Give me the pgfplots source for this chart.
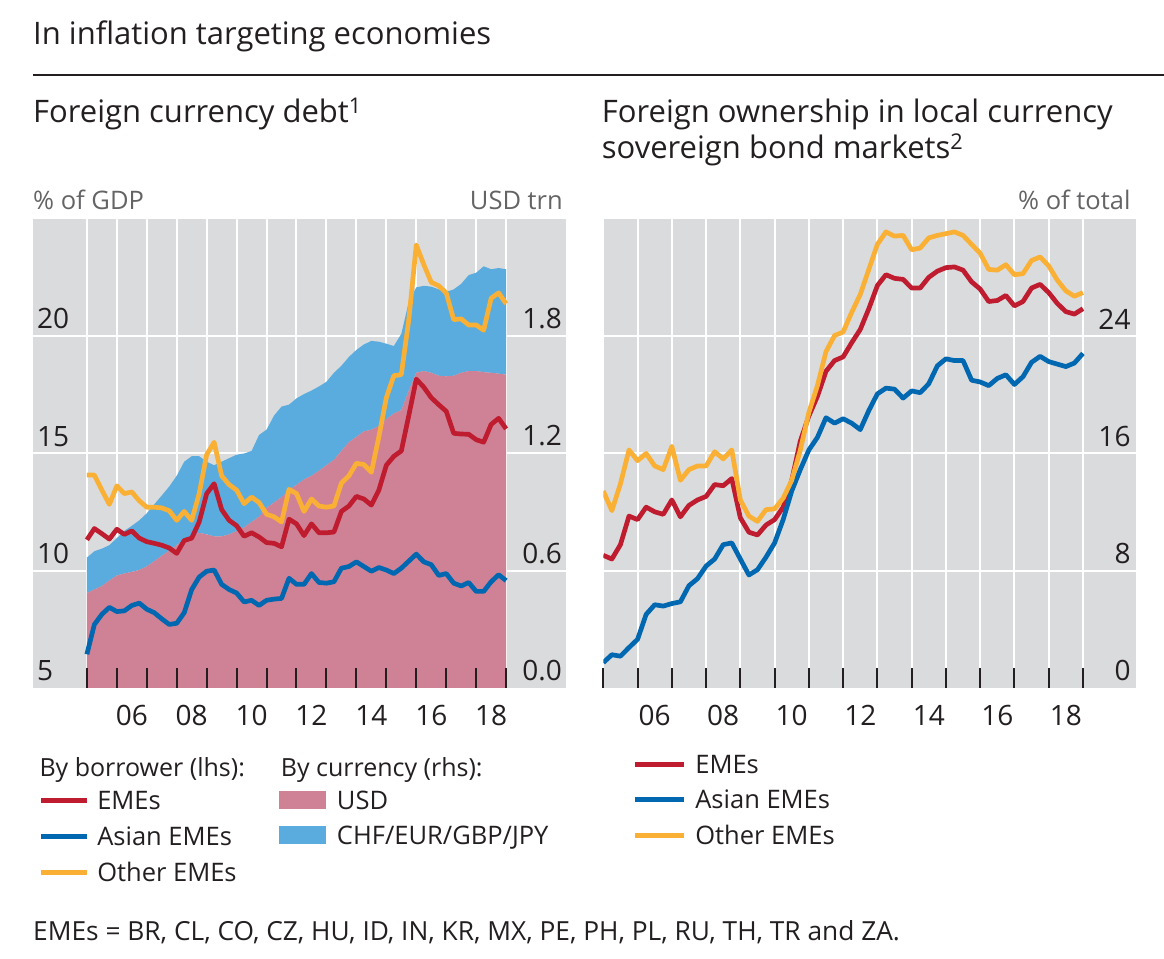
\documentclass[border=0pt]{standalone}
\usepackage{fontspec}
\setmainfont{Open Sans}
\usepackage{pgfplots}
\pgfplotsset{compat=1.18}
\usepackage{pgfplotstable}
\definecolor{bisgray}{RGB}{218,219,221}
\definecolor{usdpink}{RGB}{207,130,150}
\definecolor{othblue}{RGB}{90,172,222}
\definecolor{emered}{RGB}{191,28,48}
\definecolor{asiablue}{RGB}{0,103,177}
\definecolor{othyellow}{RGB}{250,176,52}
\definecolor{bistext}{RGB}{35,31,32}
\definecolor{unitgray}{RGB}{100,100,102}

\pgfplotstableread{
x emes asia other
2005.00 11.32 6.44 14.08
2005.25 11.80 7.71 14.08
2005.50 11.58 8.14 13.44
2005.75 11.35 8.44 12.83
2006.00 11.77 8.26 13.62
2006.25 11.55 8.29 13.29
2006.50 11.70 8.52 13.36
2006.75 11.39 8.62 12.98
2007.00 11.24 8.36 12.71
2007.25 11.17 8.21 12.71
2007.50 11.09 7.95 12.68
2007.75 10.97 7.71 12.56
2008.00 10.74 7.76 12.15
2008.25 11.29 8.21 12.53
2008.50 11.39 9.20 12.15
2008.75 12.08 9.73 13.29
2009.00 13.29 9.98 14.95
2009.25 13.71 10.03 15.48
2009.50 12.61 9.42 14.05
2009.75 12.15 9.20 13.67
2010.00 11.92 9.05 13.44
2010.25 11.47 8.67 12.86
2010.50 11.62 8.74 13.14
2010.75 11.44 8.52 12.91
2011.00 11.20 8.74 12.41
2011.25 11.17 8.79 12.30
2011.50 11.02 8.82 12.08
2011.75 12.20 9.68 13.47
2012.00 12.00 9.42 13.29
2012.25 11.50 9.42 12.53
2012.50 12.00 9.88 13.06
2012.75 11.62 9.50 12.76
2013.00 11.62 9.47 12.71
2013.25 11.65 9.53 12.76
2013.50 12.53 10.11 13.74
2013.75 12.76 10.18 14.05
2014.00 13.17 10.38 14.58
2014.25 13.06 10.18 14.53
2014.50 12.80 9.98 14.20
2014.75 13.44 10.14 15.71
2015.00 14.50 10.03 17.38
2015.25 14.88 9.88 18.32
2015.50 15.11 10.11 18.36
2015.75 16.62 10.41 20.71
2016.00 18.17 10.71 23.89
2016.25 17.83 10.38 23.06
2016.50 17.38 10.26 22.30
2016.75 17.08 9.80 22.15
2017.00 16.80 9.88 21.85
2017.25 15.86 9.47 20.71
2017.50 15.83 9.35 20.74
2017.75 15.82 9.50 20.48
2018.00 15.59 9.12 20.48
2018.25 15.48 9.12 20.26
2018.50 16.24 9.53 21.62
2018.75 16.50 9.83 21.85
2019.00 16.05 9.58 21.39
}\lefttab

\pgfplotstableread{
x usd oth
2005.00 0.486 0.181
2005.25 0.504 0.196
2005.50 0.522 0.191
2005.75 0.550 0.181
2006.00 0.576 0.191
2006.25 0.586 0.218
2006.50 0.594 0.236
2006.75 0.604 0.254
2007.00 0.622 0.272
2007.25 0.649 0.291
2007.50 0.677 0.308
2007.75 0.703 0.328
2008.00 0.731 0.355
2008.25 0.758 0.400
2008.50 0.776 0.410
2008.75 0.794 0.392
2009.00 0.786 0.372
2009.25 0.776 0.364
2009.50 0.776 0.382
2009.75 0.786 0.390
2010.00 0.804 0.390
2010.25 0.822 0.378
2010.50 0.850 0.363
2010.75 0.876 0.419
2011.00 0.922 0.400
2011.25 0.949 0.445
2011.50 0.977 0.463
2011.75 1.013 0.437
2012.00 1.040 0.442
2012.25 1.067 0.437
2012.50 1.086 0.436
2012.75 1.112 0.431
2013.00 1.140 0.427
2013.25 1.168 0.445
2013.50 1.213 0.436
2013.75 1.258 0.436
2014.00 1.285 0.445
2014.25 1.313 0.445
2014.50 1.322 0.454
2014.75 1.340 0.432
2015.00 1.376 0.386
2015.25 1.404 0.346
2015.50 1.422 0.390
2015.75 1.522 0.454
2016.00 1.613 0.437
2016.25 1.622 0.436
2016.50 1.613 0.441
2016.75 1.598 0.442
2017.00 1.595 0.432
2017.25 1.598 0.442
2017.50 1.613 0.455
2017.75 1.622 0.491
2018.00 1.622 0.503
2018.25 1.616 0.542
2018.50 1.613 0.530
2018.75 1.609 0.540
2019.00 1.603 0.540
}\areatab

\pgfplotstableread{
x emes asia other
2005.00 9.05 1.73 13.44
2005.25 8.80 2.27 12.10
2005.50 9.78 2.17 13.93
2005.75 11.73 2.76 16.24
2006.00 11.49 3.32 15.51
2006.25 12.34 5.02 16.00
2006.50 12.02 5.68 15.15
2006.75 11.85 5.59 14.90
2007.00 12.83 5.76 16.49
2007.25 11.68 5.88 14.17
2007.50 12.46 6.98 14.90
2007.75 12.83 7.46 15.15
2008.00 13.07 8.32 15.15
2008.25 13.88 8.80 16.12
2008.50 13.80 9.78 15.63
2008.75 14.29 9.90 16.24
2009.00 11.61 8.80 12.83
2009.25 10.63 7.71 11.73
2009.50 10.44 8.07 11.37
2009.75 11.12 8.93 12.17
2010.00 11.49 9.90 12.22
2010.25 12.34 11.49 12.95
2010.50 14.17 13.44 14.17
2010.75 16.85 14.90 16.24
2011.00 18.56 16.24 18.80
2011.25 19.90 17.10 20.63
2011.50 21.61 18.44 22.95
2011.75 22.34 18.07 24.05
2012.00 22.59 18.37 24.29
2012.25 23.56 18.07 25.63
2012.50 24.46 17.63 26.85
2012.75 25.88 18.93 28.56
2013.00 27.46 20.07 30.27
2013.25 28.20 20.46 31.12
2013.50 27.95 20.39 30.83
2013.75 27.88 19.78 30.88
2014.00 27.29 20.27 29.90
2014.25 27.29 20.15 30.02
2014.50 28.02 20.76 30.71
2014.75 28.44 21.98 30.88
2015.00 28.68 22.46 31.00
2015.25 28.73 22.34 31.12
2015.50 28.51 22.34 30.88
2015.75 27.71 21.00 30.27
2016.00 27.22 20.88 29.66
2016.25 26.37 20.63 28.56
2016.50 26.44 21.12 28.51
2016.75 26.78 21.37 28.88
2017.00 26.07 20.71 28.20
2017.25 26.37 21.24 28.27
2017.50 27.29 22.22 29.17
2017.75 27.54 22.63 29.41
2018.00 26.98 22.27 28.80
2018.25 26.24 22.10 27.83
2018.50 25.68 21.93 27.10
2018.75 25.51 22.17 26.73
2019.00 25.88 22.83 26.98
}\righttab

\pgfplotsset{
  bisbase/.style={
    scale only axis, width=533pt, height=469pt,
    axis line style={draw=none},
    tick label style={font=\fontsize{28}{28}\selectfont, text=bistext, inner sep=0pt},
    /pgf/number format/assume math mode=true,
    ytick style={draw=none},
    major tick length=20pt, tick align=inside,
    grid style={white, line width=2pt},
    xticklabel style={anchor=north, yshift=-17pt},
  },
  linelegend/.style={
    legend cell align=left,
    legend image code/.code={\draw[##1, line width=5pt] (0pt,0pt) -- (#1,0pt);},
    legend style={draw=none, fill=none, inner sep=0pt, outer sep=0pt,
      font=\fontsize{25.5}{25.5}\selectfont, text=bistext,
      nodes={inner sep=0pt, text height=18pt, text depth=0pt},
      row sep=17.8pt},
  },
  bisline/.style={line width=4.7pt, line join=round},
}

\begin{document}
\begin{tikzpicture}
\path[use as bounding box] (0,0) rectangle (1164pt,958pt);

% ---------- left panel: areas (rhs, USD trn)
\begin{axis}[bisbase, at={(33pt,270pt)}, anchor=south west,
  xmin=2003.2, xmax=2021, ymin=0, ymax=2.4,
  axis background/.style={fill=bisgray},
  xtick={2005,...,2019}, xticklabels={}, xtick style={draw=none},
  xmajorgrids, ymajorgrids,
  ytick={0.6,1.2,1.8}, yticklabels={0.6,1.2,1.8},
  extra y ticks={0}, extra y tick labels={0.0}, extra y tick style={grid=none},
  yticklabel pos=right,
  yticklabel style={anchor=south east, xshift=-4pt, yshift=7pt},
  stack plots=y,
  legend cell align=left,
  legend image code/.code={\fill[#1] (0pt,-9.25pt) rectangle (47pt,9.25pt);},
  legend style={draw=none, fill=none, inner sep=0pt, outer sep=0pt,
    font=\fontsize{25.5}{25.5}\selectfont, text=bistext,
    nodes={inner sep=0pt, text height=18pt, text depth=0pt},
    row sep=16.5pt, column sep=11pt,
    at={(0.4615,-0.2196)}, anchor=north west},
]
\addplot[fill=usdpink, draw=none] table[x=x, y=usd]{\areatab} \closedcycle;
\addplot[fill=othblue, draw=none] table[x=x, y=oth]{\areatab} \closedcycle;
\legend{USD, CHF/EUR/GBP/JPY}
\end{axis}

% ---------- left panel: lines (lhs, % of GDP)
\begin{axis}[bisbase, at={(33pt,270pt)}, anchor=south west,
  xmin=2003.2, xmax=2021, ymin=5, ymax=25,
  xtick={2005,...,2019}, xticklabels={}, xtick pos=left,
  xtick style={draw=bistext, line width=2pt},
  extra x ticks={2006.5,2008.5,...,2018.5},
  extra x tick labels={06,08,10,12,14,16,18},
  extra x tick style={major tick length=0pt},
  ytick={5,10,15,20}, yticklabel pos=left,
  yticklabel style={anchor=south west, xshift=4pt, yshift=7pt},
  linelegend=46pt,
  legend style={at={(0.0099,-0.2211)}, anchor=north west, column sep=8pt},
]
\addplot[bisline, emered] table[x=x, y=emes]{\lefttab};
\addplot[bisline, asiablue] table[x=x, y=asia]{\lefttab};
\addplot[bisline, othyellow] table[x=x, y=other]{\lefttab};
\legend{EMEs, Asian EMEs, Other EMEs}
\end{axis}

% ---------- right panel
\begin{axis}[bisbase, at={(603.3pt,270pt)}, anchor=south west, width=532.4pt,
  xmin=2005, xmax=2020.54, ymin=0, ymax=32,
  axis background/.style={fill=bisgray},
  xmajorgrids, ymajorgrids,
  xtick={2005,...,2019}, xticklabels={}, xtick pos=left,
  xtick style={draw=bistext, line width=2pt},
  extra x ticks={2006.5,2008.5,...,2018.5},
  extra x tick labels={06,08,10,12,14,16,18},
  extra x tick style={major tick length=0pt, grid=none},
  ytick={8,16,24},
  extra y ticks={0}, extra y tick style={grid=none},
  yticklabel pos=right,
  yticklabel style={anchor=south east, xshift=-5pt, yshift=7pt},
  linelegend=49pt,
  legend style={at={(0.0545,-0.1429)}, anchor=north west, column sep=9pt},
]
\addplot[bisline, emered] table[x=x, y=emes]{\righttab};
\addplot[bisline, asiablue] table[x=x, y=asia]{\righttab};
\addplot[bisline, othyellow] table[x=x, y=other]{\righttab};
\legend{EMEs, Asian EMEs, Other EMEs}
\end{axis}

% ---------- texts
\node[anchor=base west, inner sep=0pt, text=bistext, font=\fontsize{31}{31}\selectfont] at (33pt,913pt) {In inflation targeting economies};
\draw[bistext, line width=2.5pt] (33pt,883pt) -- (1164pt,883pt);
\node[anchor=base west, inner sep=0pt, text=bistext, font=\fontsize{31}{31}\selectfont] at (33pt,835pt) {Foreign currency debt\textsuperscript{1}};
\node[anchor=base west, inner sep=0pt, text=bistext, font=\fontsize{31}{31}\selectfont] at (601.7pt,835pt) {Foreign ownership in local currency};
\node[anchor=base west, inner sep=0pt, text=bistext, font=\fontsize{31}{31}\selectfont] at (601.7pt,799.7pt) {sovereign bond markets\textsuperscript{2}};
\node[anchor=base west, inner sep=0pt, text=unitgray, font=\fontsize{25.5}{25.5}\selectfont] at (33pt,748.7pt) {\% of GDP};
\node[anchor=base east, inner sep=0pt, text=unitgray, font=\fontsize{25.5}{25.5}\selectfont] at (563pt,748.7pt) {USD trn};
\node[anchor=base east, inner sep=0pt, text=unitgray, font=\fontsize{25.5}{25.5}\selectfont] at (1130.7pt,748.7pt) {\% of total};
\node[anchor=base west, inner sep=0pt, text=bistext, font=\fontsize{25}{25}\selectfont] at (39.3pt,181.3pt) {By borrower (lhs):};
\node[anchor=base west, inner sep=0pt, text=bistext, font=\fontsize{25}{25}\selectfont] at (280.7pt,181.3pt) {By currency (rhs):};
\node[anchor=base west, inner sep=0pt, text=bistext, font=\fontsize{26.3}{26.3}\selectfont] at (33pt,17pt) {EMEs = BR, CL, CO, CZ, HU, ID, IN, KR, MX, PE, PH, PL, RU, TH, TR and ZA.};
\end{tikzpicture}
\end{document}
